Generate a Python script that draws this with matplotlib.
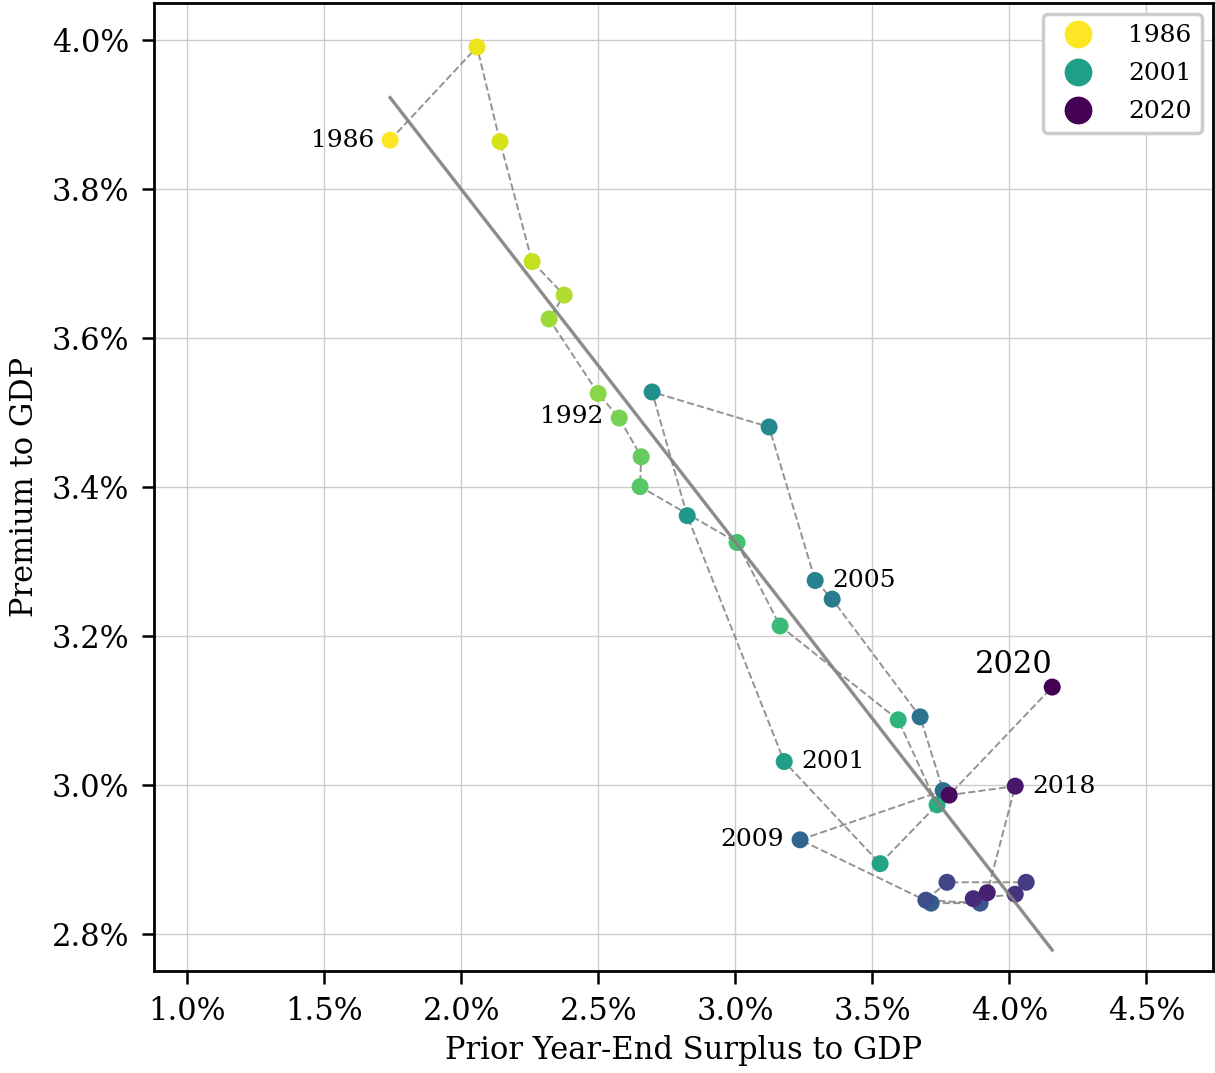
import matplotlib as mpl
import matplotlib.pyplot as plt
from matplotlib.lines import Line2D
from matplotlib.ticker import FuncFormatter, MultipleLocator
import numpy as np

mpl.rcParams['font.family'] = 'DejaVu Serif'

# data (percent of GDP)
years = np.arange(1986, 2021)
surplus = [1.740, 2.057, 2.141, 2.258, 2.375, 2.320, 2.499, 2.576, 2.656, 2.652,
           3.006, 3.163, 3.594, 3.736, 3.528, 3.178, 2.824, 2.696, 3.123, 3.291,
           3.353, 3.674, 3.758, 3.236, 3.714, 3.893, 3.695, 3.772, 4.061, 4.021,
           3.868, 3.919, 4.021, 3.780, 4.156]
premium = [3.866, 3.991, 3.864, 3.703, 3.658, 3.626, 3.526, 3.493, 3.441, 3.401,
           3.326, 3.214, 3.088, 2.974, 2.895, 3.032, 3.362, 3.528, 3.481, 3.275,
           3.250, 3.092, 2.993, 2.927, 2.842, 2.842, 2.846, 2.870, 2.870, 2.854,
           2.848, 2.856, 2.999, 2.987, 3.132]
legend_years = [1986, 2001, 2020]
# label year -> text offset in points
labels = {1986: (-11.5, 0, 'right', 'center', 18),
          1992: (3.5, -16.5, 'right', 'center', 18),
          2001: (12, 0, 'left', 'center', 18),
          2005: (12, 0, 'left', 'center', 18),
          2009: (-11.5, 0, 'right', 'center', 18),
          2018: (12, 0, 'left', 'center', 18),
          2020: (0, 16, 'right', 'center', 22)}

x = np.array(surplus)
y = np.array(premium)
cmap = plt.get_cmap('viridis_r')
norm = mpl.colors.Normalize(vmin=years.min(), vmax=years.max())

fig = plt.figure(figsize=(12.15, 10.73), dpi=100)
ax = fig.add_axes([0.1267, 0.0951, 0.8717, 0.9021])

ax.plot(x, y, '--', color='grey', lw=1.4, alpha=0.85, zorder=2)
ax.scatter(x, y, c=years, cmap=cmap, norm=norm, s=150, zorder=3, edgecolors='none')

# regression line
coef = np.polyfit(x, y, 1)
xx = np.array([x.min(), x.max()])
ax.plot(xx, np.polyval(coef, xx), color='grey', lw=2.4, alpha=0.9, zorder=4)

for yr, (dx, dy, ha, va, fs) in labels.items():
    i = yr - years[0]
    ax.annotate(str(yr), (x[i], y[i]), xytext=(dx, dy), textcoords='offset points',
                ha=ha, va=va, fontsize=fs)

handles = [Line2D([], [], marker='o', ls='', markersize=20, markeredgewidth=0,
                  color=cmap(norm(yr)), label=str(yr)) for yr in legend_years]
leg = ax.legend(handles=handles, loc='upper right', fontsize=18, fancybox=True,
                framealpha=1, borderpad=0.4, handletextpad=1.0, labelspacing=0.6,
                borderaxespad=0.45)
leg.get_frame().set_edgecolor('#cccccc')
leg.get_frame().set_linewidth(2.5)

ax.set_xlim(0.878, 4.743)
ax.set_ylim(2.751, 4.050)
ax.xaxis.set_major_locator(MultipleLocator(0.5))
ax.yaxis.set_major_locator(MultipleLocator(0.2))
ax.xaxis.set_major_formatter(FuncFormatter(lambda v, p: '%.1f%%' % v))
ax.yaxis.set_major_formatter(FuncFormatter(lambda v, p: '%.1f%%' % v))
ax.grid(True, color='#cccccc', lw=1)
ax.set_axisbelow(True)
ax.tick_params(labelsize=22, length=9, width=1.8, direction='out', pad=9)
for s in ax.spines.values():
    s.set_linewidth(2)
ax.set_xlabel('Prior Year-End Surplus to GDP', fontsize=22, labelpad=6)
ax.set_ylabel('Premium to GDP', fontsize=22, labelpad=8)

plt.savefig('out.png', dpi=100)
